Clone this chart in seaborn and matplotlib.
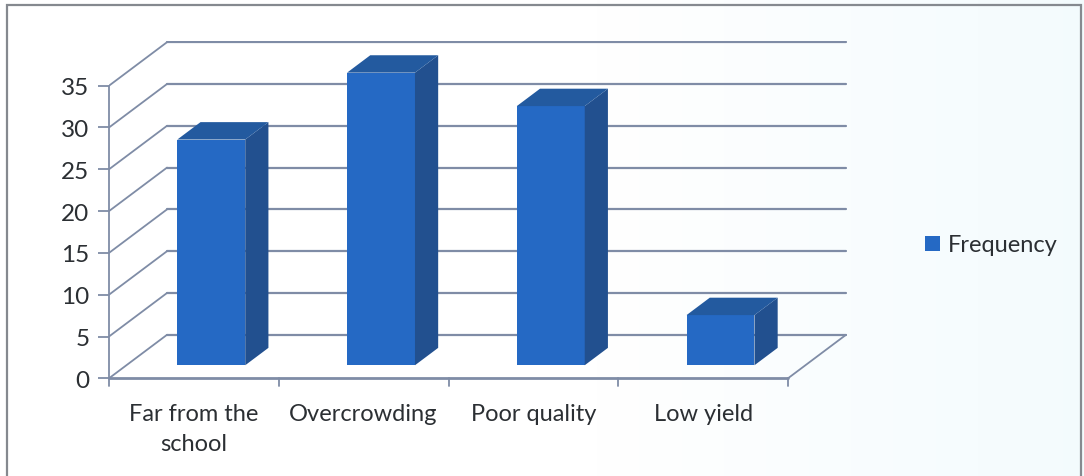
import matplotlib
matplotlib.use("Agg")
import matplotlib.pyplot as plt
import numpy as np
import pandas as pd
import seaborn as sns
from matplotlib.patches import Polygon, Rectangle

categories = ["Far from the\nschool", "Overcrowding", "Poor quality", "Low yield"]
frequency = [27, 35, 31, 6]
y_ticks = [0, 5, 10, 15, 20, 25, 30, 35]
series_name = "Frequency"

FRONT = "#2569c4"
SIDE = "#22508f"
TOP = "#235a9f"
GRID = "#7f8ca6"
INK = "#2b2f33"

W, H = 1084, 477
sns.set_theme(style="white")
plt.rcParams["font.family"] = ["Lato", "DejaVu Sans"]

fig = plt.figure(figsize=(W / 100, H / 100), dpi=100, facecolor="white")

# Faint cool tint towards the right of the page
bg = fig.add_axes([0, 0, 1, 1], zorder=-1)
bg.axis("off")
tint = np.clip((np.linspace(0, 1, 256) - 0.55) / 0.45, 0, 1)[None, :, None]
bg.imshow(1 - tint * np.array([0.045, 0.015, 0.005]), aspect="auto", extent=(0, 1, 0, 1))

# Page frame around the chart
fig.add_artist(Rectangle((7 / W, -0.02), (1081 - 7) / W, 1.02 - 6 / H, transform=fig.transFigure,
                         fill=False, ec="#85898f", lw=1.6))

# Axes span the front corner to the far edge of the back wall
left, right, y_zero, y_top = 109, 847, 379.3, 42
ax = fig.add_axes([left / W, 1 - y_zero / H, (right - left) / W, (y_zero - y_top) / H])
px_per_cat = (788 - 109) / len(categories)
px_per_unit = (379.3 - 86.7) / 35
ax.patch.set_alpha(0)
sns.despine(ax=ax, left=True, bottom=True, right=True, top=True)

# Depth of the floor, in data units
depth_x = 58 / px_per_cat
depth_y = 43.5 / px_per_unit
x0, x1 = -0.5, len(categories) - 0.5

# Back wall, side wall and floor lines
for v in y_ticks:
    ax.plot([x0 + depth_x, x1 + depth_x], [v + depth_y] * 2, color=GRID, lw=1.6, zorder=1)
    ax.plot([x0, x0 + depth_x], [v, v + depth_y], color=GRID, lw=1.3, zorder=1)
ax.plot([x1, x1 + depth_x], [0, depth_y], color=GRID, lw=1.3, zorder=1)

# Front faces from the table; each bar stands 30% into the floor depth
frame = pd.DataFrame({"category": categories, series_name: frequency})
sns.barplot(data=frame, x="category", y=series_name, ax=ax, width=0.4,
            color=FRONT, saturation=1, linewidth=0, zorder=3)
ax.set_xlim(-0.5, -0.5 + (right - left) / px_per_cat)
ax.set_ylim(0, (y_zero - y_top) / px_per_unit)

near, far = 0.30, 0.70
for bar in list(ax.patches):
    bar.set_x(bar.get_x() + near * depth_x)
    bar.set_y(near * depth_y)
    xa, xb = bar.get_x(), bar.get_x() + bar.get_width()
    ya, yb = bar.get_y(), bar.get_y() + bar.get_height()
    ox, oy = (far - near) * depth_x, (far - near) * depth_y
    ax.add_patch(Polygon([(xb, ya), (xb + ox, ya + oy), (xb + ox, yb + oy), (xb, yb)],
                         closed=True, fc=SIDE, ec="none", zorder=3))
    ax.add_patch(Polygon([(xa, yb), (xa + ox, yb + oy), (xb + ox, yb + oy), (xb, yb)],
                         closed=True, fc=TOP, ec="none", zorder=3))

# Front axis lines drawn over the floor
ax.plot([x0, x0], [0, 35], color=GRID, lw=1.3, zorder=4, clip_on=False)
ax.plot([x0, x1], [0, 0], color=GRID, lw=2.0, zorder=4, clip_on=False)

ax.set_xlabel("")
ax.set_ylabel("")
ax.set_xticks(np.arange(len(categories)))
ax.set_xticklabels(categories, fontsize=17, color=INK, linespacing=1.5)
ax.tick_params(axis="x", length=0, pad=18)
ax.set_yticks(y_ticks)
ax.set_yticklabels([str(v) for v in y_ticks], fontsize=17.5, color=INK)
ax.tick_params(axis="y", length=8, width=1.3, color=GRID, pad=6, left=True)
for pos in np.arange(x0, x1 + 0.5):
    ax.plot([pos, pos], [0, -8 / px_per_unit], color=GRID, lw=1.3, clip_on=False, zorder=4)

# Legend key and label
handle = Rectangle((0, 0), 1, 1, fc=FRONT, ec="none")
fig.legend([handle], [series_name], loc="center left", bbox_to_anchor=(925 / W, 1 - 246 / H),
           frameon=False, fontsize=17, labelcolor=INK, handlelength=0.62, handleheight=0.62,
           handletextpad=0.35, borderpad=0, borderaxespad=0)

fig.savefig("out.png", dpi=100, facecolor="white")
